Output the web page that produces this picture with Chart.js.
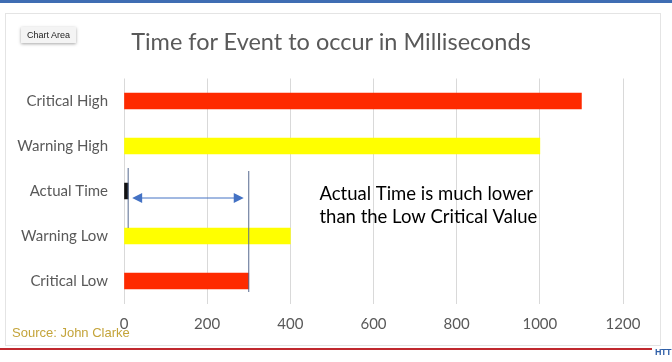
<!DOCTYPE html>
<html>
<head>
<meta charset="utf-8">
<script src="https://cdn.jsdelivr.net/npm/chart.js@4.4.1/dist/chart.umd.min.js"></script>
<style>
  html, body { margin: 0; padding: 0; background: #fff; }
  #wrap { position: relative; width: 672px; height: 362px; overflow: hidden; font-family: Lato, "Open Sans", sans-serif; }
  #topband { position: absolute; left: 0; top: 0; width: 672px; height: 3px; background: #3f6db3; }
  #frame { position: absolute; left: 5px; top: 13px; width: 654px; height: 331px; border: 1px solid #e4e4e4; }
  #chartArea { position: absolute; left: 21px; top: 27px; padding: 3px 6px; font-size: 9px; color: #222;
               background: #f4f4f4; box-shadow: 0 1px 3px rgba(0,0,0,0.35); font-family: "Liberation Sans", Arial, sans-serif; }
  #title { position: absolute; left: 0; width: 662px; top: 27px; text-align: center; font-size: 23.5px; color: #595959; }
  #source { position: absolute; left: 12px; top: 325px; font-size: 13px; color: #c4a43a; font-family: "Liberation Sans", Arial, sans-serif; }
  #redline { position: absolute; left: 0; top: 348px; width: 652px; height: 2px; background: #c0282e; }
  #htt { position: absolute; left: 655px; top: 347px; font-size: 9px; font-weight: bold; color: #2f5fa8; letter-spacing: -0.5px;
         font-family: "Liberation Sans", Arial, sans-serif; }
  canvas { position: absolute; left: 0; top: 0; }
</style>
</head>
<body>
<div id="wrap">
  <div id="topband"></div>
  <div id="frame"></div>
  <canvas id="c" width="672" height="362"></canvas>
  <div id="chartArea">Chart Area</div>
  <div id="title">Time for Event to occur in Milliseconds</div>
  <div id="source">Source: John Clarke</div>
  <div id="redline"></div>
  <div id="htt">HTT</div>
</div>
<script>
const categories = ['Critical High', 'Warning High', 'Actual Time', 'Warning Low', 'Critical Low'];
const timeValues = [1100, 1000, 10, 400, 300];
const barColors = ['#fe2a00', '#ffff00', '#111111', '#ffff00', '#fe2a00'];
const xTicks = [0, 200, 400, 600, 800, 1000, 1200];

// annotation: actual value marker and critical low marker, joined by an arrow
const markerValues = [10, 300];
const noteLines = ['Actual Time is much lower', 'than the Low Critical Value'];
const noteAt = 470;

const annotations = {
  id: 'annotations',
  afterDatasetsDraw(chart) {
    const { ctx, scales: { x, y } } = chart;
    const yActual = y.getPixelForValue(2);
    const yWarnLow = y.getPixelForValue(3);
    const yCritLow = y.getPixelForValue(4);
    const xa = x.getPixelForValue(markerValues[0]);
    const xb = x.getPixelForValue(markerValues[1]);

    ctx.save();
    ctx.strokeStyle = '#56698f';
    ctx.lineWidth = 1;
    ctx.beginPath();
    ctx.moveTo(xa, yActual - 23);
    ctx.lineTo(xa, yWarnLow - 8);
    ctx.moveTo(xb, yActual - 20);
    ctx.lineTo(xb, yCritLow + 11);
    ctx.stroke();

    // double-headed arrow
    const ay = yActual + 7;
    const x1 = xa + 4, x2 = xb - 5;
    ctx.strokeStyle = '#4472c4';
    ctx.fillStyle = '#4472c4';
    ctx.beginPath();
    ctx.moveTo(x1 + 8, ay);
    ctx.lineTo(x2 - 8, ay);
    ctx.stroke();
    ctx.beginPath();
    ctx.moveTo(x1, ay); ctx.lineTo(x1 + 10, ay - 5); ctx.lineTo(x1 + 10, ay + 5); ctx.closePath();
    ctx.moveTo(x2, ay); ctx.lineTo(x2 - 10, ay - 5); ctx.lineTo(x2 - 10, ay + 5); ctx.closePath();
    ctx.fill();

    ctx.fillStyle = '#000';
    ctx.font = '18.5px Lato, "Open Sans", sans-serif';
    ctx.textBaseline = 'middle';
    ctx.textAlign = 'left';
    const tx = x.getPixelForValue(noteAt);
    noteLines.forEach((t, i) => ctx.fillText(t, tx, yActual + 3 + i * 23));
    ctx.restore();
  }
};

new Chart(document.getElementById('c').getContext('2d'), {
  type: 'bar',
  data: {
    labels: categories,
    datasets: [{
      data: timeValues,
      backgroundColor: barColors,
      barThickness: 16
    }]
  },
  plugins: [annotations],
  options: {
    indexAxis: 'y',
    responsive: false,
    animation: false,
    layout: { padding: { left: 0, right: 49, top: 78.5, bottom: 18.5 } },
    plugins: { legend: { display: false }, tooltip: { enabled: false }, title: { display: false } },
    scales: {
      x: {
        min: 0, max: 1200,
        afterBuildTicks(scale) { scale.ticks = xTicks.map(v => ({ value: v })); },
        afterFit(scale) { scale.height = 40; },
        grid: { color: '#d9d9d9', drawTicks: false },
        border: { display: false },
        ticks: {
          padding: 12, color: '#595959',
          font: { family: 'Lato, "Open Sans", sans-serif', size: 15 },
          callback: v => String(v)
        }
      },
      y: {
        afterFit(scale) { scale.width = 124; },
        grid: { display: false, drawTicks: false },
        border: { display: false },
        ticks: { padding: 16, color: '#595959', font: { family: 'Lato, "Open Sans", sans-serif', size: 15 } }
      }
    }
  }
});
</script>
</body>
</html>
